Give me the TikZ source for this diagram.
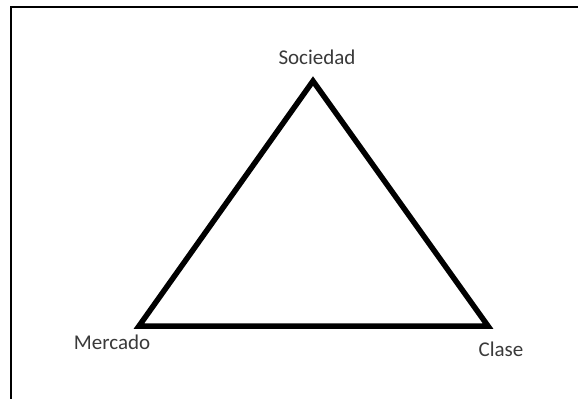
\documentclass[tikz,border=0pt]{standalone}
\usepackage{fontspec}
\setmainfont{Carlito}
\definecolor{labelgray}{HTML}{3A3A3A}
\begin{document}
\begin{tikzpicture}[x=1pt,y=1pt,
  lbl/.style={font=\fontsize{21}{25}\selectfont, text=labelgray, anchor=base, inner sep=0pt},
  edge/.style={draw=black, line width=5.5pt, line join=miter}]
\useasboundingbox (0,0) rectangle (578,399);
\fill[white] (0,0) rectangle (578,399);
% frame (top and left only)
\coordinate (ftl) at (11,392);
\coordinate (ftr) at (578,392);
\coordinate (fbl) at (11,0);
\draw[line width=2pt] (ftr) -- (ftl) -- (fbl);
% triangle vertices
\coordinate (S) at (313,318);
\coordinate (M) at (139,73);
\coordinate (C) at (488,73);
\draw[edge] (S) -- (M) -- (C) -- cycle;
% labels
\node[lbl] (ls) at (317,334) {Sociedad};
\node[lbl] (lm) at (112,49) {Mercado};
\node[lbl] (lc) at (501,43) {Clase};
\end{tikzpicture}
\end{document}
